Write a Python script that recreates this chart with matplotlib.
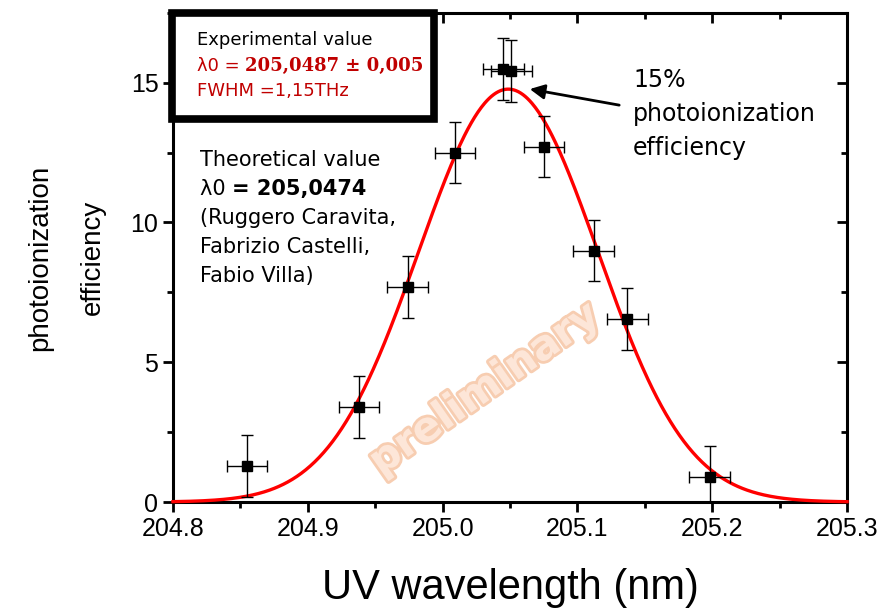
"""
Photoionization efficiency vs UV wavelength, with Gaussian fit
"""

import numpy as np
import matplotlib.pyplot as plt
import matplotlib.patheffects as pe
from matplotlib.patches import Rectangle
from matplotlib.ticker import MultipleLocator

WAVELENGTH = np.array([204.855, 204.938, 204.974, 205.009, 205.045,
                       205.051, 205.075, 205.112, 205.137, 205.198])
EFFICIENCY = np.array([1.29, 3.40, 7.70, 12.50, 15.49,
                       15.41, 12.71, 8.99, 6.55, 0.90])
ERR_X = np.array([0.015] * 10)
ERR_Y = np.array([1.1] * 10)

# Gaussian fit parameters
FIT_CENTER = 205.0487
FIT_SIGMA = 0.0665
FIT_AMPL = 14.77

X_TICKS = [204.8, 204.9, 205.0, 205.1, 205.2, 205.3]
X_TICK_LABELS = ['204.8', '204.9', '205.0', '205.1', '205.2', '205.3']
Y_TICKS = [0, 5, 10, 15]

TXT_FONT = 'DejaVu Sans'
RED_TXT = '#c00000'


def gauss(x, x0, s, a):
    return a * np.exp(-0.5 * ((x - x0) / s) ** 2)


def main():
    plt.rcParams['font.family'] = ['Liberation Sans', 'DejaVu Sans']
    fig = plt.figure(figsize=(8.87, 6.10), dpi=100)
    ax = fig.add_axes([0.195, 0.177, 0.760, 0.802])

    # fit curve
    x_fit = np.linspace(204.8, 205.3, 600)
    ax.plot(x_fit, gauss(x_fit, FIT_CENTER, FIT_SIGMA, FIT_AMPL),
            color='#ff0000', lw=2.4, zorder=3, clip_on=False)

    # data with error bars
    ax.errorbar(WAVELENGTH, EFFICIENCY, xerr=ERR_X, yerr=ERR_Y, fmt='s',
                color='black', ms=6.5, ecolor='black', elinewidth=1.0,
                capsize=4, capthick=1.0, zorder=4)

    ax.set_xlim(204.8, 205.3)
    ax.set_ylim(0, 17.5)
    ax.set_xticks(X_TICKS)
    ax.set_xticklabels(X_TICK_LABELS)
    ax.set_yticks(Y_TICKS)
    ax.xaxis.set_minor_locator(MultipleLocator(0.05))
    ax.yaxis.set_minor_locator(MultipleLocator(2.5))
    ax.tick_params(which='both', direction='out', width=2, labelsize=18,
                   top=False, right=False)
    ax.tick_params(which='major', length=7)
    ax.tick_params(which='minor', length=4)
    for sp in ax.spines.values():
        sp.set_linewidth(2.2)

    # mirrored inward ticks on top / right
    ax2 = ax.secondary_xaxis('top')
    ax2.set_xticks(X_TICKS)
    ax2.xaxis.set_minor_locator(MultipleLocator(0.05))
    ax2.tick_params(which='both', direction='in', width=2, labeltop=False)
    ax2.tick_params(which='major', length=7)
    ax2.tick_params(which='minor', length=4)
    ax3 = ax.secondary_yaxis('right')
    ax3.set_yticks(Y_TICKS)
    ax3.yaxis.set_minor_locator(MultipleLocator(2.5))
    ax3.tick_params(which='both', direction='in', width=2, labelright=False)
    ax3.tick_params(which='major', length=7)
    ax3.tick_params(which='minor', length=4)

    ax.set_xlabel('UV wavelength (nm)', fontsize=30, labelpad=20)
    ax.set_ylabel('photoionization\nefficiency', fontsize=20, labelpad=18,
                  linespacing=2.3)

    # watermark
    ax.text(205.031, 4.05, 'preliminary', rotation=35, fontsize=30,
            fontweight='bold', family='DejaVu Sans', color='#fde6d8',
            ha='center', va='center', zorder=2,
            path_effects=[pe.Stroke(linewidth=4, foreground='#f7cdb1'),
                          pe.Normal()])

    # experimental value box
    box = Rectangle((172 / 887, 1 - 119 / 610), 262 / 887, 106 / 610,
                    transform=fig.transFigure, fill=True, facecolor='white',
                    edgecolor='black', lw=5.5, zorder=10)
    fig.patches.append(box)
    fig.text(197 / 887, 1 - 40 / 610, 'Experimental value', fontsize=13,
             family=TXT_FONT, va='center', zorder=11)
    t1 = fig.text(197 / 887, 1 - 66 / 610, 'λ0 = ', fontsize=13,
                  family=TXT_FONT, color=RED_TXT, va='center', zorder=11)
    fig.add_artist(plt.Annotation('205,0487 ± 0,005', xy=(1, 0),
                                  xycoords=t1, va='bottom', fontsize=13,
                                  family='DejaVu Serif', fontweight='bold',
                                  color=RED_TXT, zorder=11))
    fig.text(197 / 887, 1 - 91 / 610, 'FWHM =1,15THz', fontsize=13,
             family=TXT_FONT, color=RED_TXT, va='center', zorder=11)

    # theoretical value text
    theo_lines = ['Theoretical value', None, '(Ruggero Caravita,',
                  'Fabrizio Castelli,', 'Fabio Villa)']
    for i, s in enumerate(theo_lines):
        y = 1 - (160 + 29 * i) / 610
        if s is None:
            t2 = fig.text(200 / 887, y, 'λ0 ', fontsize=15, family=TXT_FONT,
                          va='center')
            fig.add_artist(plt.Annotation('= 205,0474', xy=(1, 0),
                                          xycoords=t2, va='bottom',
                                          fontsize=15, family=TXT_FONT,
                                          fontweight='bold'))
        else:
            fig.text(200 / 887, y, s, fontsize=15, family=TXT_FONT,
                     va='center')

    # annotation at the peak
    ax.annotate('', xy=(205.0626, 14.79), xytext=(205.133, 14.18),
                arrowprops=dict(arrowstyle='-|>', color='black', lw=2,
                                mutation_scale=22))
    for i, s in enumerate(['15%', 'photoionization', 'efficiency']):
        fig.text(633 / 887, 1 - (80 + 34 * i) / 610, s, fontsize=17,
                 family=TXT_FONT, va='center')

    fig.savefig('out.png', dpi=100)


if __name__ == "__main__":
    main()
